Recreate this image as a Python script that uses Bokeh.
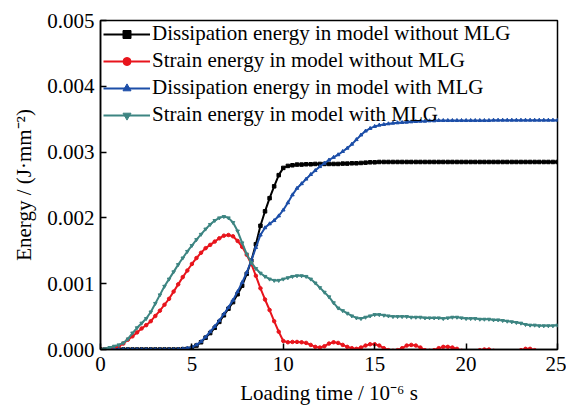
import numpy as np
from bokeh.plotting import figure
from bokeh.models import Legend, LegendItem, Range1d, FixedTicker
from bokeh.embed import file_html
from bokeh.resources import INLINE

# time axis (10^-6 s), sampled every 0.25
t = [i * 0.25 for i in range(101)]

# values in units of 10^-3 J/mm^2
diss_without = [0,0,0,0,0,0,0,0,0,0,0,0,0,0,0,0,0,0,
    0.005,0.01,0.025,0.06,0.11,0.18,0.25,0.33,0.42,0.52,0.62,0.72,0.84,0.97,
    1.15,1.35,1.6,1.88,2.1,2.3,2.48,2.65,2.76,2.79,2.80,2.81,2.81,2.815,2.815,2.82,
    2.82,2.82,2.82,2.82,2.82,2.825,2.825,2.83,2.83,2.835,2.84,2.845,2.845,2.85,2.85,2.85,
    2.85,2.85,2.85,2.85,2.85,2.85,2.85,2.85,2.85,2.85,2.85,2.85,2.85,2.85,2.85,2.85,
    2.85,2.85,2.85,2.85,2.85,2.85,2.85,2.85,2.85,2.85,2.85,2.85,2.85,2.85,2.85,2.85,
    2.85,2.85,2.85,2.85,2.85]
strain_without = [0,0.005,0.015,0.03,0.05,0.09,0.15,0.2,0.26,0.32,0.37,0.43,0.51,0.59,0.68,0.77,
    0.88,0.99,1.1,1.2,1.3,1.39,1.47,1.54,1.59,1.64,1.69,1.73,1.74,1.72,1.65,1.56,
    1.44,1.3,1.12,0.93,0.76,0.6,0.43,0.27,0.13,0.11,0.115,0.115,0.11,0.1,0.07,0.04,
    0.03,0.05,0.09,0.11,0.10,0.07,0.04,0.02,0.01,0.03,0.06,0.08,0.08,0.06,0.02,-0.01,
    -0.02,-0.01,0.02,0.06,0.07,0.06,0.03,-0.01,-0.02,-0.01,0.02,0.04,0.04,0.03,0.01,-0.02,
    -0.04,-0.04,-0.03,-0.01,0.0,0.0,-0.02,-0.04,-0.06,-0.07,-0.06,-0.04,-0.01,0.01,0.01,-0.01,
    -0.03,-0.05,-0.06,-0.07,-0.08]
diss_with = [0,0,0,0,0,0,0,0,0,0,0,0,0,0,0,0,0,0.003,
    0.01,0.02,0.04,0.07,0.12,0.19,0.27,0.35,0.44,0.54,0.64,0.75,0.88,1.02,
    1.17,1.35,1.55,1.74,1.85,1.91,1.96,2.03,2.12,2.23,2.35,2.45,2.52,2.59,2.66,2.72,
    2.78,2.83,2.88,2.92,2.96,3.01,3.06,3.12,3.19,3.26,3.32,3.36,3.39,3.41,3.42,3.43,
    3.44,3.445,3.45,3.455,3.46,3.465,3.47,3.47,3.475,3.475,3.48,3.48,3.48,3.48,3.48,3.48,
    3.48,3.48,3.48,3.48,3.48,3.48,3.485,3.485,3.485,3.485,3.485,3.485,3.485,3.485,3.485,3.485,
    3.485,3.485,3.485,3.485,3.485]
strain_with = [0,0.01,0.03,0.05,0.07,0.1,0.16,0.25,0.33,0.4,0.47,0.57,0.7,0.83,0.96,1.07,
    1.18,1.29,1.39,1.49,1.58,1.67,1.75,1.83,1.9,1.96,2.0,2.02,2.0,1.93,1.8,1.62,
    1.45,1.32,1.23,1.16,1.11,1.07,1.05,1.05,1.07,1.09,1.11,1.12,1.12,1.11,1.07,1.01,
    0.94,0.87,0.8,0.71,0.63,0.59,0.55,0.51,0.48,0.47,0.49,0.51,0.53,0.53,0.52,0.51,
    0.5,0.5,0.5,0.5,0.49,0.49,0.49,0.48,0.48,0.48,0.48,0.47,0.48,0.49,0.49,0.48,
    0.47,0.47,0.47,0.46,0.46,0.46,0.45,0.45,0.44,0.43,0.42,0.41,0.40,0.38,0.37,0.37,
    0.36,0.36,0.36,0.36,0.37]

labels = ["Dissipation energy in model without MLG",
          "Strain energy in model without MLG",
          "Dissipation energy in model with MLG",
          "Strain energy in model with MLG"]
colors = ["#000000", "#e8141c", "#1c4ea8", "#3d8582"]
markers = ["square", "circle", "triangle", "inverted_triangle"]
series = [diss_without, strain_without, diss_with, strain_with]

FONT = "Liberation Serif"

p = figure(width=566, height=407, output_backend="svg", toolbar_location=None,
           x_range=Range1d(0, 25), y_range=Range1d(0, 0.005),
           min_border_left=100, min_border_right=9, min_border_top=20, min_border_bottom=57)
p.grid.visible = False
p.outline_line_color = "black"
p.outline_line_width = 1.5
p.background_fill_color = "white"
p.border_fill_color = "white"

items = []
for lab, col, mk, ys in zip(labels, colors, markers, series):
    y = np.array(ys) * 1e-3
    r1 = p.line(t, y, line_color=col, line_width=2)
    r2 = p.scatter(t, y, marker=mk, size=3.5, fill_color=col, line_color=col)
    items.append(LegendItem(label=lab, renderers=[r1, r2]))

legend = Legend(items=items, location=(3, 222), glyph_width=47, glyph_height=20,
                label_text_font=FONT, label_text_font_size="21px", label_text_color="black",
                label_standoff=2, spacing=2, padding=0, margin=0,
                label_height=20, border_line_color=None, background_fill_alpha=0)
p.add_layout(legend, "center")

for ax in (p.xaxis, p.yaxis):
    ax.axis_line_color = "black"
    ax.axis_line_width = 1.5
    ax.major_tick_line_color = "black"
    ax.major_tick_line_width = 1.5
    ax.major_tick_in = 6
    ax.major_tick_out = 0
    ax.minor_tick_line_color = None
    ax.major_label_text_font = FONT
    ax.major_label_text_font_size = "21px"
    ax.major_label_text_color = "black"
    ax.axis_label_text_font = FONT
    ax.axis_label_text_font_size = "21px"
    ax.axis_label_text_font_style = "normal"
    ax.axis_label_text_color = "black"

p.xaxis.ticker = FixedTicker(ticks=[0, 5, 10, 15, 20, 25])
p.yaxis.ticker = FixedTicker(ticks=[0, 0.001, 0.002, 0.003, 0.004, 0.005])
p.yaxis.major_label_overrides = {0: "0.000", 0.001: "0.001", 0.002: "0.002",
                                 0.003: "0.003", 0.004: "0.004", 0.005: "0.005"}
p.xaxis.axis_label = "Loading time / 10\u207b\u2076 s"
p.yaxis.axis_label = "Energy / (J\u00b7mm\u207b\u00b2)"
p.xaxis.major_label_standoff = 7
p.yaxis.major_label_standoff = 6
p.xaxis.axis_label_standoff = 7
p.yaxis.axis_label_standoff = 8

open("out.html", "w").write(file_html(p, INLINE))
